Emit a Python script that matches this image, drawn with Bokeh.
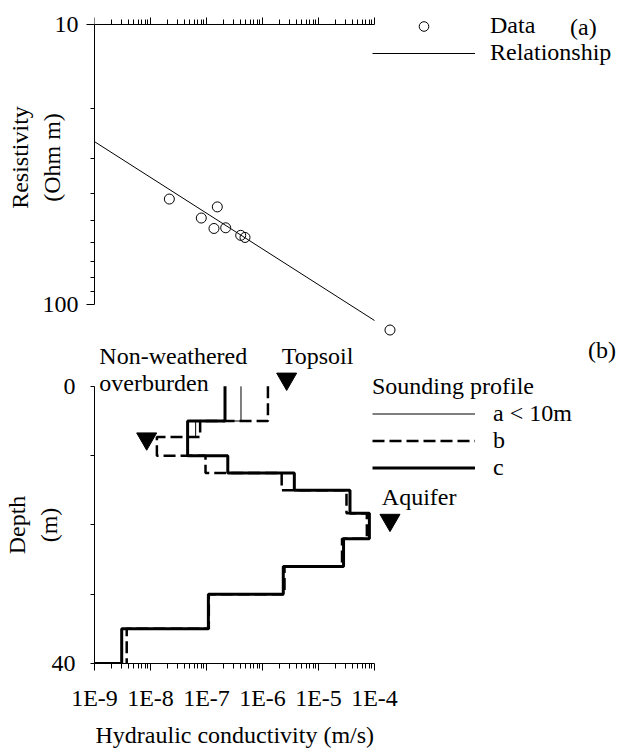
from bokeh.plotting import figure
from bokeh.models import (Range1d, FixedTicker, CustomJSTickFormatter, Legend,
                          LegendItem, Label, Title)
from bokeh.layouts import column
from bokeh.embed import file_html
from bokeh.resources import INLINE

FONT = "Liberation Serif"
FS = "24px"
NB = "\u00a0"

# ---------------- panel (a): resistivity vs hydraulic conductivity
data_k = [2.17e-8, 8.07e-8, 1.56e-7, 1.36e-7, 2.20e-7, 4.08e-7, 4.87e-7, 1.89e-4]
data_rho = [42.0, 49.1, 44.8, 53.5, 53.2, 56.6, 57.6, 123.3]
rel_k = [1e-9, 1e-4]
rel_rho = [26.2, 114.0]

# ---------------- panel (b): sounding profiles (layer boundaries, layer K)
a_depth = [0, 5, 7.3, 10]
a_k = [4.13e-7, 6.4e-8, 4.6e-8]
b_depth = [0, 5, 7.3, 10, 12.5, 15, 18.3, 22, 26, 30, 35, 40]
b_k = [1.25e-6, 7.7e-8, 1.3e-8, 9.6e-8, 2.2e-6, 3.16e-5, 7.3e-5, 2.63e-5,
       2.47e-6, 1.1e-7, 3.76e-9]
c_depth = [0, 5, 10, 12.5, 15, 18.3, 22, 26, 30, 35, 40, 40]
c_k = [2.14e-7, 4.6e-8, 2.4e-7, 3.7e-6, 3.65e-5, 8.1e-5, 2.8e-5, 2.35e-6,
       1.08e-7, 3.06e-9, 1e-9]

# markers: Topsoil, Non-weathered overburden, Aquifer
marker_k = [2.7e-6, 8.55e-9, 1.89e-4]
marker_depth = [-1.08, 7.55, 19.3]

# ---------------- ticks
k_ticks = [1e-9, 1e-8, 1e-7, 1e-6, 1e-5, 1e-4]
k_tick_labels = ["1E-9", "1E-8", "1E-7", "1E-6", "1E-5", "1E-4"]
k_top_labels = ["", "", "", "", "", ""]
k_minor = [m * t for t in k_ticks[:-1] for m in range(2, 10)]
rho_ticks = [10, 100]
rho_tick_labels = ["10", "100"]
rho_minor = [20, 30, 40, 50, 60, 70, 80, 90]
depth_ticks = [0, 10, 20, 30, 40]
depth_tick_labels = ["0", "", "", "", "40"]


def formatter(tv, tl, log):
    code = """
    for (let i = 0; i < tv.length; i++) {
        const a = lg ? Math.log10(tv[i]) : tv[i];
        const b = lg ? Math.log10(tick) : tick;
        if (Math.abs(a - b) < 1e-6) { return tl[i]; }
    }
    return "";
    """
    return CustomJSTickFormatter(args=dict(tv=tv, tl=tl, lg=log), code=code)


def profile(depths, ks):
    xs, ys = [], []
    for i, k in enumerate(ks):
        xs += [k, k]
        ys += [depths[i], depths[i + 1]]
    return xs, ys


def style_axis(ax):
    ax.axis_line_color = "black"
    ax.major_tick_line_color = "black"
    ax.minor_tick_line_color = "black"
    ax.major_tick_in = 0
    ax.minor_tick_in = 0
    ax.major_label_text_font = FONT
    ax.major_label_text_font_size = FS
    ax.major_label_text_color = "black"
    ax.axis_label_text_font = FONT
    ax.axis_label_text_font_size = FS
    ax.axis_label_text_font_style = "normal"
    ax.axis_label_text_color = "black"


# ================= top figure
p1 = figure(width=619, height=338, x_axis_type="log", y_axis_type="log",
            x_range=Range1d(1e-9, 2.37), y_range=Range1d(132.2, 9.06),
            x_axis_location="above", output_backend="svg", toolbar_location=None,
            min_border_left=94, min_border_right=0, min_border_top=12,
            min_border_bottom=0)
p1.grid.visible = False
p1.outline_line_color = None

xa = p1.xaxis[0]
style_axis(xa)
xa.ticker = FixedTicker(ticks=k_ticks, minor_ticks=k_minor)
xa.formatter = formatter(k_ticks, k_top_labels, True)
xa.bounds = (1e-9, 1e-4)
xa.fixed_location = 10
xa.major_label_text_font_size = "1px"
xa.major_label_standoff = 0
xa.major_tick_out = 7
xa.minor_tick_out = 5

ya = p1.yaxis[0]
style_axis(ya)
ya.ticker = FixedTicker(ticks=rho_ticks, minor_ticks=rho_minor)
ya.formatter = formatter(rho_ticks, rho_tick_labels, True)
ya.bounds = (10, 100)
ya.major_tick_out = 8
ya.minor_tick_out = 4
ya.major_label_standoff = 8
ya.axis_label = NB * 6 + "Resistivity\n" + NB * 6 + "(Ohm m)"
ya.axis_label_standoff = -25

r_rel = p1.line(rel_k, rel_rho, line_color="black", line_width=1)
r_data = p1.scatter(data_k, data_rho, marker="circle", size=10,
                    fill_color=None, line_color="black", line_width=1)

leg1 = Legend(items=[LegendItem(label="Data", renderers=[r_data]),
                     LegendItem(label="Relationship", renderers=[r_rel])],
              location=(278, 272), glyph_width=103, glyph_height=24,
              label_height=24, label_standoff=15, spacing=0, padding=0,
              margin=0, border_line_color=None, background_fill_alpha=0,
              label_text_font=FONT, label_text_font_size=FS,
              label_text_color="black")
p1.add_layout(leg1)
p1.add_layout(Label(x=0.31, y=10.2, text="(a)", text_font=FONT,
                    text_font_size=FS, text_baseline="alphabetic",
                    text_align="left", text_color="black"))

# ================= bottom figure
p2 = figure(width=619, height=415, x_axis_type="log",
            x_range=Range1d(1e-9, 2.37), y_range=Range1d(40, -6.91),
            output_backend="svg", toolbar_location=None,
            min_border_left=94, min_border_right=0, min_border_top=0,
            min_border_bottom=89)
p2.grid.visible = False
p2.outline_line_color = None

xb = p2.xaxis[0]
style_axis(xb)
xb.ticker = FixedTicker(ticks=k_ticks, minor_ticks=k_minor)
xb.formatter = formatter(k_ticks, k_tick_labels, True)
xb.bounds = (1e-9, 1e-4)
xb.major_tick_out = 7
xb.minor_tick_out = 5
xb.major_label_standoff = 14

p2.add_layout(Title(text="Hydraulic conductivity (m/s)", align="left", offset=1,
                    standoff=12, text_font=FONT, text_font_size=FS,
                    text_font_style="normal", text_color="black"), "below")

yb = p2.yaxis[0]
style_axis(yb)
yb.ticker = FixedTicker(ticks=depth_ticks, minor_ticks=[])
yb.formatter = formatter(depth_ticks, depth_tick_labels, False)
yb.bounds = (0, 40)
yb.major_tick_out = 4
yb.minor_tick_out = 0
yb.major_label_standoff = 15
yb.axis_label = "Depth" + NB * 8 + "\n(m)" + NB * 8
yb.axis_label_standoff = -13

ax_, ay_ = profile(a_depth, a_k)
bx_, by_ = profile(b_depth, b_k)
cx_, cy_ = profile(c_depth, c_k)
ra = p2.line(ax_, ay_, line_color="black", line_width=1)
rb = p2.line(bx_, by_, line_color="black", line_width=2.5, line_dash="12 5")
rc = p2.line(cx_, cy_, line_color="black", line_width=3)
p2.scatter(marker_k, marker_depth, marker="inverted_triangle", size=20,
           fill_color="black", line_color="black")

leg2 = Legend(items=[LegendItem(label="a < 10m", renderers=[ra]),
                     LegendItem(label="b", renderers=[rb]),
                     LegendItem(label="c", renderers=[rc])],
              title="Sounding profile", title_standoff=0,
              title_text_font=FONT, title_text_font_size=FS,
              title_text_font_style="normal", title_text_color="black",
              location=(278, 182), glyph_width=103, glyph_height=27,
              label_height=27, label_standoff=18, spacing=0, padding=0,
              margin=0, border_line_color=None, background_fill_alpha=0,
              label_text_font=FONT, label_text_font_size=FS,
              label_text_color="black")
p2.add_layout(leg2)

texts = [("Non-weathered", 1.22e-9, -4.42), ("overburden", 1.22e-9, -0.43),
         ("Topsoil", 2.2e-6, -4.42), ("Aquifer", 1.35e-4, 15.9),
         ("(b)", 0.65, -5.22)]
for t, x, y in texts:
    p2.add_layout(Label(x=x, y=y, text=t, text_font=FONT, text_font_size=FS,
                        text_baseline="alphabetic", text_align="left",
                        text_color="black"))

layout = column(p1, p2)
open("out.html", "w").write(file_html(layout, INLINE))
